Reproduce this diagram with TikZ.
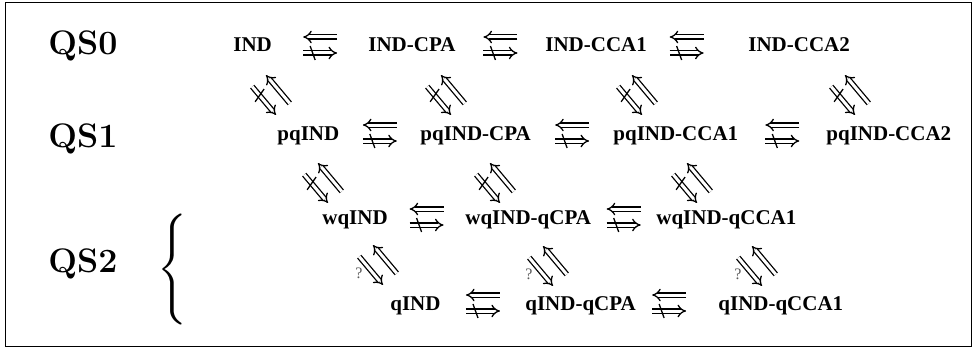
\documentclass[tikz,border=0pt]{standalone}
\usepackage{fontspec}
\newfontfamily\tms{Liberation Serif}
\usetikzlibrary{arrows.meta,calc}

\tikzset{
  lbl/.style={font=\tms\bfseries\fontsize{10.5}{12}\selectfont, anchor=base west, inner sep=0pt},
  qs/.style={font=\bfseries\fontsize{17}{20}\selectfont, anchor=base west, inner sep=0pt},
  imp/.style={double, double distance=1.5pt, line width=0.65pt, -{Implies}},
  qmark/.style={font=\tms\fontsize{8}{9}\selectfont, text=gray!70!black, inner sep=0pt},
}

% waagrecht: oben <=, unten durchgestrichenes =>
\newcommand{\hpair}[4][0]{%
  \coordinate (#4) at ($(#2.base east)!0.5!(#3.base west) + (#1,7)$);
  \draw[imp] ([shift={(17,8)}]#4) -- ([shift={(-17,8)}]#4);
  \draw[imp] ([shift={(-17,-8)}]#4) -- ([shift={(17,-8)}]#4);
  \draw[line width=0.65pt] ([shift={(-10,-1)}]#4) -- ([shift={(-5,-15)}]#4);
}

% schraeg: rechts oben <=, links unten => mit Strich oder Fragezeichen
\newcommand{\dpair}[2]{%
  \begin{scope}[shift={(#1)}, rotate=-50]
    \draw[imp] (-18.5,-9) -- (18.5,-9);
    \draw[imp] (18.5,9) -- (-18.5,9);
    #2
  \end{scope}
}
\newcommand{\dstrike}{\draw[line width=0.65pt] (-9,-1.5) -- (-5,-16.5);}

\begin{document}
\begin{tikzpicture}[x=0.5pt, y=0.5pt]
  \useasboundingbox (0,0) rectangle (976,349);
  \draw[line width=0.5pt] (5,3) rectangle (971,346);

  % Stufen
  \node[qs] (qs0) at (48,294) {QS0};
  \node[qs] (qs1) at (48,201) {QS1};
  \node[qs] (qs2) at (48,77) {QS2};
  \node[inner sep=0pt, scale=1.85] (brace) at (172,79) {$\Biggl\{$};

  % QS0
  \node[lbl] (ind)     at (233,297) {IND};
  \node[lbl] (indcpa)  at (368,297) {IND-CPA};
  \node[lbl] (indcca1) at (545,297) {IND-CCA1};
  \node[lbl] (indcca2) at (748,297) {IND-CCA2};
  \hpair{ind}{indcpa}{h1}
  \hpair{indcpa}{indcca1}{h2}
  \hpair[-11]{indcca1}{indcca2}{h3}

  % QS1
  \node[lbl] (pqind)     at (277,209) {pqIND};
  \node[lbl] (pqindcpa)  at (420,209) {pqIND-CPA};
  \node[lbl] (pqindcca1) at (613,209) {pqIND-CCA1};
  \node[lbl] (pqindcca2) at (826,209) {pqIND-CCA2};
  \hpair{pqind}{pqindcpa}{h4}
  \hpair{pqindcpa}{pqindcca1}{h5}
  \hpair{pqindcca1}{pqindcca2}{h6}

  % QS2
  \node[lbl] (wqind)     at (322,125) {wqIND};
  \node[lbl] (wqindcpa)  at (465,125) {wqIND-qCPA};
  \node[lbl] (wqindcca1) at (656,125) {wqIND-qCCA1};
  \hpair{wqind}{wqindcpa}{h7}
  \hpair{wqindcpa}{wqindcca1}{h8}

  \node[lbl] (qind)     at (390,39) {qIND};
  \node[lbl] (qindcpa)  at (525,39) {qIND-qCPA};
  \node[lbl] (qindcca1) at (718,39) {qIND-qCCA1};
  \hpair{qind}{qindcpa}{h9}
  \hpair[-8]{qindcpa}{qindcca1}{h10}

  % zwischen den Zeilen
  \coordinate (d1) at (271,254);
  \coordinate (d2) at (446,254);
  \coordinate (d3) at (637,254);
  \coordinate (d4) at (850,254);
  \coordinate (d5) at (323,166);
  \coordinate (d6) at (495,166);
  \coordinate (d7) at (692,166);
  \coordinate (d8) at (378,84);
  \coordinate (d9) at (548,83);
  \coordinate (d10) at (757,83);
  \foreach \d in {d1,d2,d3,d4,d5,d6,d7}
    {\dpair{\d}{\dstrike}}
  \dpair{d8}{\node[qmark] (q1) at (-6,-20) {?};}
  \dpair{d9}{\node[qmark] (q2) at (-6,-20) {?};}
  \dpair{d10}{\node[qmark] (q3) at (-6,-20) {?};}
\end{tikzpicture}
\end{document}
